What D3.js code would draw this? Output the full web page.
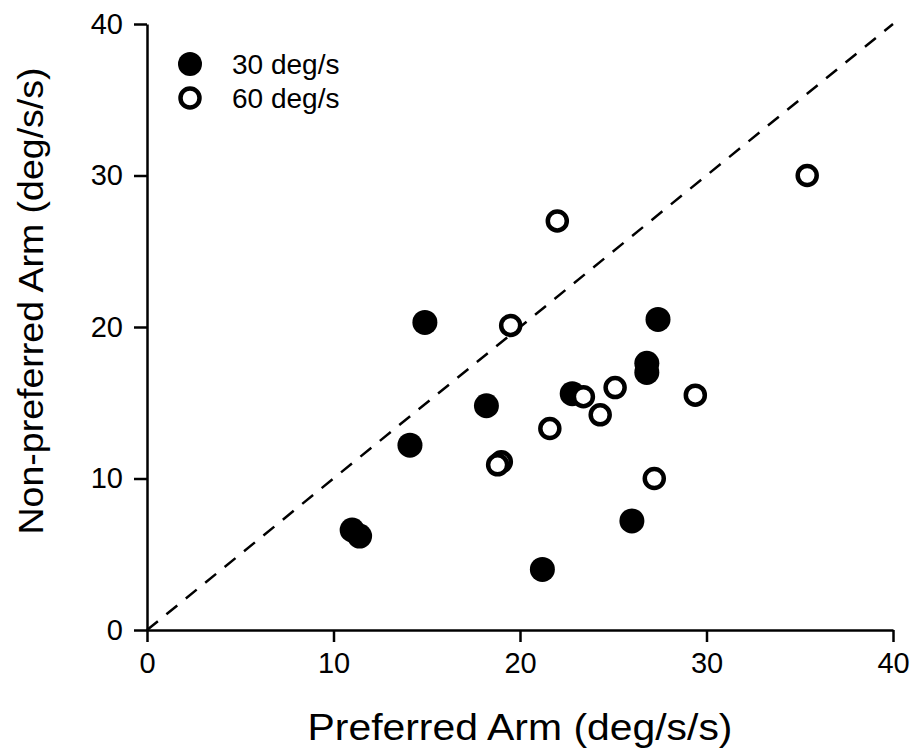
<!DOCTYPE html>
<html>
<head>
<meta charset="utf-8">
<script src="https://cdn.jsdelivr.net/npm/d3@7"></script>
<style>
body { margin: 0; background: #fff; }
text { font-family: "Liberation Sans", Arial, sans-serif; fill: #000; }
</style>
</head>
<body>
<svg id="chart" width="917" height="753"></svg>
<script>
let width = 917;
let height = 753;
let margins = {top: 24, bottom: 123, left: 147, right: 24};

// 30 deg/s (filled)
const slow_x = [14.9, 27.4, 26.8, 26.8, 18.2, 22.8, 14.1, 11.0, 11.4, 26.0, 21.2];
const slow_y = [20.3, 20.5, 17.6, 17.0, 14.8, 15.6, 12.2, 6.6, 6.2, 7.2, 4.0];
// 60 deg/s (open)
const fast_x = [35.4, 22.0, 19.5, 25.1, 23.4, 29.4, 24.3, 21.6, 19.0, 18.8, 27.2];
const fast_y = [30.0, 27.0, 20.1, 16.0, 15.4, 15.5, 14.2, 13.3, 11.1, 10.9, 10.0];

const ticks = [0, 10, 20, 30, 40];
const legend_labels = ["30 deg/s", "60 deg/s"];

const svg = d3.select("#chart");

const x = d3.scaleLinear().domain([0, 40]).range([margins.left, width - margins.right]);
const y = d3.scaleLinear().domain([0, 40]).range([height - margins.bottom, margins.top]);

// unity line
svg.append("line")
	.attr("x1", x(0)).attr("y1", y(0))
	.attr("x2", x(40)).attr("y2", y(40))
	.attr("stroke", "#000")
	.attr("stroke-width", 2.5)
	.attr("stroke-dasharray", "14,11");

// axes
const xAxis = svg.append("g")
	.attr("transform", `translate(0,${y(0)})`)
	.call(d3.axisBottom(x).tickValues(ticks).tickSize(12).tickPadding(10).tickSizeOuter(0));
const yAxis = svg.append("g")
	.attr("transform", `translate(${x(0)},0)`)
	.call(d3.axisLeft(y).tickValues(ticks).tickSize(13).tickPadding(11).tickSizeOuter(0));

[xAxis, yAxis].forEach(a => {
	a.select(".domain").attr("stroke", "#000").attr("stroke-width", 2.5);
	a.selectAll(".tick line").attr("stroke", "#000").attr("stroke-width", 2.5);
	a.selectAll(".tick text")
		.attr("fill", "#000")
		.style("font-size", "29px")
		.style("font-family", "Liberation Sans, Arial, sans-serif");
});

// axis titles
svg.append("text")
	.attr("x", (x(0) + x(40)) / 2)
	.attr("y", 740)
	.attr("text-anchor", "middle")
	.style("font-size", "36px")
	.attr("textLength", 425)
	.attr("lengthAdjust", "spacingAndGlyphs")
	.text("Preferred Arm (deg/s/s)");

svg.append("text")
	.attr("transform", "translate(43,301) rotate(-90)")
	.attr("text-anchor", "middle")
	.style("font-size", "35px")
	.attr("textLength", 467)
	.attr("lengthAdjust", "spacingAndGlyphs")
	.text("Non-preferred Arm (deg/s/s)");

// points
const slow = slow_x.map((d, i) => ({x: d, y: slow_y[i]}));
const fast = fast_x.map((d, i) => ({x: d, y: fast_y[i]}));

svg.append("g").selectAll("circle")
	.data(slow).enter()
	.append("circle")
	.attr("cx", d => x(d.x))
	.attr("cy", d => y(d.y))
	.attr("r", 12.5)
	.attr("fill", "#000");

svg.append("g").selectAll("circle")
	.data(fast).enter()
	.append("circle")
	.attr("cx", d => x(d.x))
	.attr("cy", d => y(d.y))
	.attr("r", 9.5)
	.attr("fill", "#fff")
	.attr("stroke", "#000")
	.attr("stroke-width", 4.5);

// legend
const legend = svg.append("g").attr("transform", "translate(190,64)");
legend.append("circle").attr("cx", 0).attr("cy", 0).attr("r", 12).attr("fill", "#000");
legend.append("circle").attr("cx", 0).attr("cy", 34).attr("r", 9.5).attr("fill", "#fff")
	.attr("stroke", "#000").attr("stroke-width", 4.5);
legend.selectAll("text")
	.data(legend_labels).enter()
	.append("text")
	.attr("x", 42)
	.attr("y", (d, i) => i * 34 + 10)
	.style("font-size", "28px")
	.text(d => d);
</script>
</body>
</html>
